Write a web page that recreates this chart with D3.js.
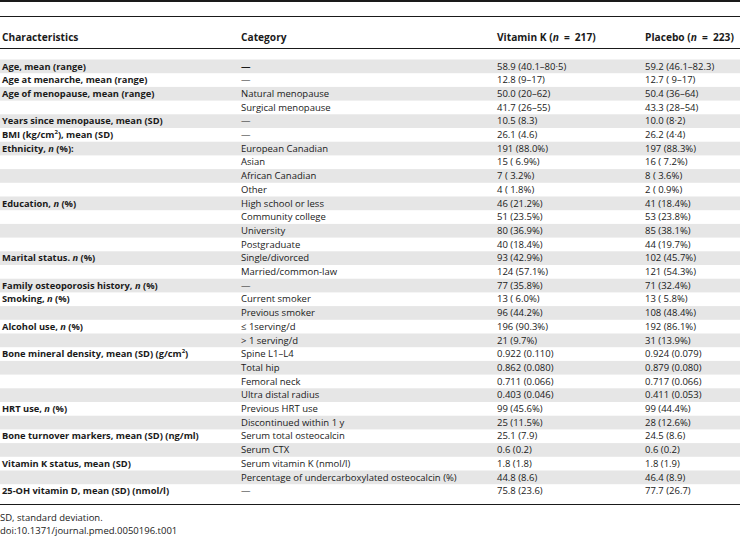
<!DOCTYPE html>
<html><head><meta charset="utf-8">
<script src="https://cdn.jsdelivr.net/npm/d3@7"></script>
<style>body{margin:0;background:#fff}svg{display:block}text{font-family:"Open Sans",sans-serif;fill:#1a1a1a;white-space:pre}</style>
</head><body><svg id="c" width="740" height="538"></svg>
<script>
const headers = ["Characteristics", "Category", "Vitamin K (*n*\u2002=\u2002217)", "Placebo (*n*\u2002=\u2002223)"];
const characteristics = ["Age, mean (range)", "Age at menarche, mean (range)", "Age of menopause, mean (range)", "", "Years since menopause, mean (SD)", "BMI (kg/cm^2^), mean (SD)", "Ethnicity, *n* (%):", "", "", "", "Education, *n* (%)", "", "", "", "Marital status. *n* (%)", "", "Family osteoporosis history, *n* (%)", "Smoking, *n* (%)", "", "Alcohol use, *n* (%)", "", "Bone mineral density, mean (SD) (g/cm^2^)", "", "", "", "HRT use, *n* (%)", "", "Bone turnover markers, mean (SD) (ng/ml)", "", "Vitamin K status, mean (SD)", "", "25-OH vitamin D, mean (SD) (nmol/l)"];
const categories = ["—", "—", "Natural menopause", "Surgical menopause", "—", "—", "European Canadian", "Asian", "African Canadian", "Other", "High school or less", "Community college", "University", "Postgraduate", "Single/divorced", "Married/common-law", "—", "Current smoker", "Previous smoker", "≤ 1serving/d", "> 1 serving/d", "Spine L1–L4", "Total hip", "Femoral neck", "Ultra distal radius", "Previous HRT use", "Discontinued within 1 y", "Serum total osteocalcin", "Serum CTX", "Serum vitamin K (nmol/l)", "Percentage of undercarboxylated osteocalcin (%)", "—"];
const vitaminK = ["58.9 (40.1–80·5)", "12.8 (9–17)", "50.0 (20–62)", "41.7 (26–55)", "10.5 (8.3)", "26.1 (4.6)", "191 (88.0%)", "15 ( 6.9%)", "7 ( 3.2%)", "4 ( 1.8%)", "46 (21.2%)", "51 (23.5%)", "80 (36.9%)", "40 (18.4%)", "93 (42.9%)", "124 (57.1%)", "77 (35.8%)", "13 ( 6.0%)", "96 (44.2%)", "196 (90.3%)", "21 (9.7%)", "0.922 (0.110)", "0.862 (0.080)", "0.711 (0.066)", "0.403 (0.046)", "99 (45.6%)", "25 (11.5%)", "25.1 (7.9)", "0.6 (0.2)", "1.8 (1.8)", "44.8 (8.6)", "75.8 (23.6)"];
const placebo = ["59.2 (46.1–82.3)", "12.7 ( 9–17)", "50.4 (36–64)", "43.3 (28–54)", "10.0 (8·2)", "26.2 (4·4)", "197 (88.3%)", "16 ( 7.2%)", "8 ( 3.6%)", "2 ( 0.9%)", "41 (18.4%)", "53 (23.8%)", "85 (38.1%)", "44 (19.7%)", "102 (45.7%)", "121 (54.3%)", "71 (32.4%)", "13 ( 5.8%)", "108 (48.4%)", "192 (86.1%)", "31 (13.9%)", "0.924 (0.079)", "0.879 (0.080)", "0.717 (0.066)", "0.411 (0.053)", "99 (44.4%)", "28 (12.6%)", "24.5 (8.6)", "0.6 (0.2)", "1.8 (1.9)", "46.4 (8.9)", "77.7 (26.7)"];
const footnotes = ["SD, standard deviation.", "doi:10.1371/journal.pmed.0050196.t001"];

const W = 740;
const svg = d3.select("#c");
const colX = [2, 241, 497, 645];
const fs = 9.5, fsb = 9.3;
const rows = d3.range(categories.length);
const y = d3.scaleBand().domain(rows).range([59.5, 59.5 + 13.7 * rows.length]).padding(0);

function rich(sel, str) {
  const parts = str.split(/(\*[^*]+\*|\^[^^]+\^)/).filter(s => s.length);
  parts.forEach(p => {
    if (p[0] === "*") sel.append("tspan").attr("font-style", "italic").text(p.slice(1, -1));
    else if (p[0] === "^") sel.append("tspan").attr("font-size", "65%").attr("baseline-shift", "super").text(p.slice(1, -1));
    else sel.append("tspan").text(p);
  });
}

svg.selectAll("rect.sh").data(rows.filter(i => i % 2 === 0)).join("rect")
  .attr("x", 0).attr("width", W).attr("y", i => y(i)).attr("height", y.bandwidth()).attr("fill", "#e6e6e6");

[[1, 2], [16.5, 1], [48.5, 1], [504.5, 1]].forEach(([ly, sw]) =>
  svg.append("line").attr("x1", 0).attr("x2", W).attr("y1", ly).attr("y2", ly).attr("stroke", "#1a1a1a").attr("stroke-width", sw));

headers.forEach((h, j) => {
  rich(svg.append("text").attr("x", colX[j]).attr("y", 41).attr("font-size", 10.2).attr("font-weight", "bold"), h);
});

rows.forEach(i => {
  const by = y(i) + 10;
  if (characteristics[i]) rich(svg.append("text").attr("x", colX[0]).attr("y", by).attr("font-size", fsb).attr("font-weight", "bold"), characteristics[i]);
  svg.append("text").attr("x", colX[1]).attr("y", by).attr("font-size", fs).attr("font-weight", i === 0 ? "bold" : "normal").text(categories[i]);
  svg.append("text").attr("x", colX[2]).attr("y", by).attr("font-size", fs).text(vitaminK[i]);
  svg.append("text").attr("x", colX[3]).attr("y", by).attr("font-size", fs).text(placebo[i]);
});

footnotes.forEach((f, k) => svg.append("text").attr("x", 0).attr("y", 521 + k * 13).attr("font-size", fs).text(f));
</script></body></html>
